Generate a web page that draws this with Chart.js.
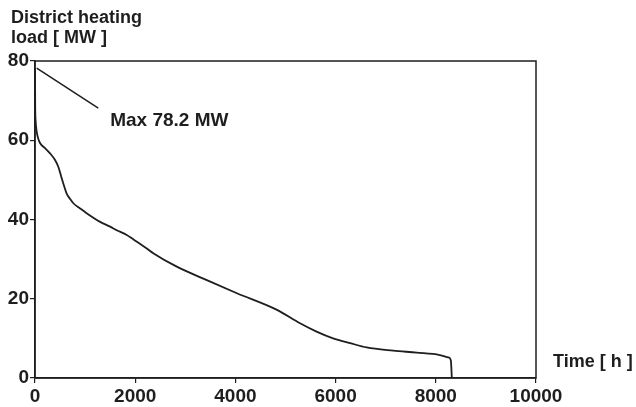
<!DOCTYPE html>
<html>
<head>
<meta charset="utf-8">
<script src="https://cdn.jsdelivr.net/npm/chart.js@4/dist/chart.umd.min.js"></script>
<style>
  html,body{margin:0;padding:0;background:#fff;}
  #wrap{width:636px;height:407px;}
</style>
</head>
<body>
<div id="wrap"><canvas id="c" width="636" height="407"></canvas></div>
<script>
// Load duration curve (hours vs district heating load)
const hours = [0, 4, 12, 30, 60, 100, 200, 300, 400, 465, 520, 565, 630, 700, 765, 900, 1030, 1300, 1500, 1630, 1830, 1960, 2230, 2360, 2830, 3430, 4030, 4830, 5290, 5620, 5950, 6290, 6620, 7150, 7620, 8080, 8250, 8300, 8320];
const loadMW = [78.2, 68.5, 65.0, 62.5, 60.6, 59.3, 58.0, 56.7, 55.0, 53.3, 51.0, 49.1, 46.6, 45.2, 44.1, 42.8, 41.6, 39.4, 38.2, 37.3, 36.1, 35.0, 32.7, 31.5, 28.1, 24.7, 21.4, 17.2, 13.8, 11.7, 10.0, 8.8, 7.7, 6.9, 6.4, 5.8, 5.2, 4.5, 0];
// Annotation pointer line to the maximum
const pointerHours = [34, 1263];
const pointerMW = [78.2, 68.1];
const labelAt = {x: 1500, y: 63.5, text: 'Max 78.2 MW'};
const xTicks = [0, 2000, 4000, 6000, 8000, 10000];
const yTicks = [0, 20, 40, 60, 80];
const yTitle = ['District heating', 'load [ MW ]'];
const xTitle = 'Time [ h ]';

const INK = '#1e1e1e';
const FONT = '"Liberation Sans", Arial, Helvetica, sans-serif';

const curve = hours.map((h, i) => ({x: h, y: loadMW[i]}));
const pointer = pointerHours.map((h, i) => ({x: h, y: pointerMW[i]}));

const decor = {
  id: 'decor',
  afterDraw(chart) {
    const {ctx, chartArea: a, scales} = chart;
    ctx.save();
    ctx.strokeStyle = INK;
    ctx.lineWidth = 1.5;
    ctx.strokeRect(a.left, a.top, a.right - a.left, a.bottom - a.top);
    ctx.fillStyle = INK;
    ctx.textAlign = 'left';
    ctx.textBaseline = 'alphabetic';
    ctx.font = 'bold 18px ' + FONT;
    ctx.fillText(yTitle[0], 11, a.top - 38);
    ctx.fillText(yTitle[1], 11, a.top - 18);
    ctx.fillText(xTitle, a.right + 17, a.bottom - 11);
    ctx.font = 'bold 19px ' + FONT;
    ctx.fillText(labelAt.text, scales.x.getPixelForValue(labelAt.x), scales.y.getPixelForValue(labelAt.y));
    ctx.restore();
  }
};

new Chart(document.getElementById('c'), {
  type: 'line',
  data: {
    datasets: [
      {data: curve, borderColor: INK, borderWidth: 1.8, pointRadius: 0, fill: false, cubicInterpolationMode: 'monotone'},
      {data: pointer, borderColor: INK, borderWidth: 1.5, pointRadius: 0, fill: false, tension: 0}
    ]
  },
  options: {
    responsive: false,
    animation: false,
    events: [],
    layout: {padding: {top: 61, right: 100, left: 0, bottom: 0}},
    plugins: {legend: {display: false}, tooltip: {enabled: false}},
    scales: {
      x: {
        type: 'linear', min: xTicks[0], max: xTicks[xTicks.length - 1],
        afterFit(s) { s.height = 29; },
        afterBuildTicks(s) { s.ticks = xTicks.map(v => ({value: v})); },
        grid: {display: true, drawOnChartArea: false, drawTicks: true, tickLength: 5, color: INK, lineWidth: 1.2},
        border: {display: true, color: INK, width: 1.5},
        ticks: {color: INK, font: {family: FONT, size: 19, weight: 'bold'}, padding: 2, maxRotation: 0, autoSkip: false,
          callback: v => String(v)}
      },
      y: {
        type: 'linear', min: yTicks[0], max: yTicks[yTicks.length - 1],
        afterFit(s) { s.width = 35; },
        afterBuildTicks(s) { s.ticks = yTicks.map(v => ({value: v})); },
        grid: {display: true, drawOnChartArea: false, drawTicks: true, tickLength: 5, color: INK, lineWidth: 1.2},
        border: {display: true, color: INK, width: 1.5},
        ticks: {color: INK, font: {family: FONT, size: 19, weight: 'bold'}, padding: 1, callback: v => String(v)}
      }
    }
  },
  plugins: [decor]
});
</script>
</body>
</html>
